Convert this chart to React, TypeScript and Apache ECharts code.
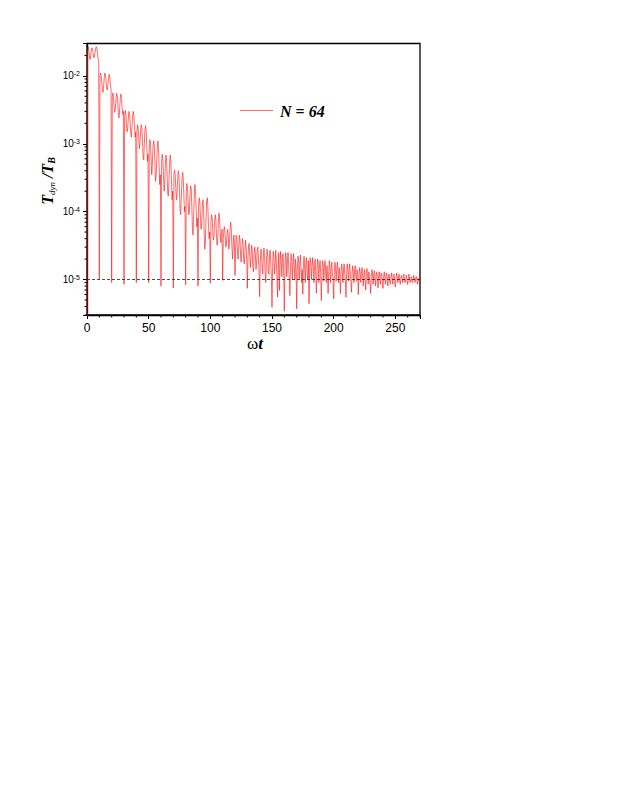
import React, { useEffect, useRef } from "react";
import * as echarts from "echarts";

// ωt sampled every 0.5; values of T_dyn/T_B in units of 1e-5
const STEP = 0.5;
const UNIT = 1e-5;

const w000 = [0.05, 2300, 2700, 2400, 1900, 1750, 2000, 2400, 2600, 2500, 2100, 1850, 1900, 2200, 2500, 2700, 2550, 2200, 1800, 1650];
const w010 = [1, 1000, 1100, 1000, 800, 620, 570, 700, 950, 1100, 1000, 800, 650, 620, 750, 950, 1050, 950, 750, 620];
const w020 = [0.9, 500, 560, 480, 350, 290, 330, 450, 550, 520, 380, 260, 240, 330, 480, 540, 470, 340, 270, 300];
const w030 = [0.85, 260, 310, 270, 190, 150, 170, 240, 300, 280, 200, 140, 125, 180, 260, 300, 260, 180, 125, 150];
const w040 = [0.9, 150, 190, 170, 120, 85, 105, 160, 190, 170, 110, 62, 58, 100, 160, 185, 150, 90, 55, 70];
const w050 = [0.9, 90, 115, 100, 60, 35, 50, 90, 110, 100, 55, 28, 32, 55, 90, 110, 85, 45, 25, 35];
const w060 = [0.8, 55, 70, 60, 35, 20, 25, 50, 68, 60, 32, 18, 17, 30, 55, 68, 55, 28, 15, 20];
const w070 = [0.75, 35, 41, 35, 22, 15, 18, 30, 40, 36, 20, 10, 9, 16, 30, 38, 32, 18, 10, 12];
const w080 = [0.84, 20, 26, 22, 14, 9, 10, 17, 24, 22, 12, 5.5, 4.5, 9, 18, 25, 20, 11, 6, 8];
const w090 = [0.8, 12, 16, 14, 8, 5.5, 7, 12, 15, 11, 5, 2.8, 3.5, 8, 14, 16, 12, 6, 4, 5];
const w100 = [0.88, 7, 9, 8, 5, 3.8, 4.5, 7.5, 9, 7.5, 4.2, 3.2, 4, 7, 9.5, 8, 5, 3.5, 4.5, 5.5];
const w110 = [0.97, 4, 5.5, 6, 4.5, 3, 3.2, 4.5, 5.5, 4.5, 2.8, 3.5, 5.5, 7, 5.5, 3, 2, 3, 4.5, 3.5];
const w120 = [1.15, 3, 4.5, 4, 2.5, 2, 3, 4.5, 4, 2.3, 1.8, 2.8, 4, 3.5, 2, 1.7, 2.5, 3.8, 3, 2];
const w130 = [0.74, 2, 3.2, 3.4, 2.2, 1.5, 2.2, 3.2, 2.6, 1.5, 1.3, 2.3, 3, 2.4, 1.4, 1.6, 2.8, 3, 2, 1.3];
const w140 = [0.56, 1.8, 2.8, 2.6, 1.5, 1.2, 2.2, 2.9, 2.1, 1.2, 0.9, 1.9, 2.8, 2.3, 1.3, 1.2, 2.3, 2.7, 1.8, 1.1];
const w150 = [0.39, 1.5, 2.6, 2.2, 1.2, 1.6, 2.7, 2.0, 1.0, 0.55, 1.4, 2.5, 0.69, 1.6, 2.6, 1.8, 1.1, 2.3, 2.4, 1.3];
const w160 = [0.34, 1.4, 2.5, 2.1, 1.1, 1.8, 2.5, 1.6, 1.0, 0.58, 1.5, 2.4, 1.9, 1.0, 1.7, 2.4, 1.5, 1.0, 2.0, 1.6];
const w170 = [0.37, 1.3, 2.2, 2.0, 1.0, 1.6, 2.3, 1.5, 0.9, 1.4, 0.61, 1.6, 2.2, 1.4, 0.9, 1.8, 2.1, 1.2, 1.0, 1.9];
const w180 = [0.44, 1.3, 2.1, 1.8, 1.0, 1.5, 2.1, 1.5, 0.9, 1.6, 2.0, 1.2, 0.63, 1.4, 2.0, 1.6, 0.9, 1.6, 1.9, 1.2];
const w190 = [0.49, 1.2, 1.9, 1.7, 0.95, 1.5, 1.9, 1.3, 0.9, 1.6, 1.3, 0.62, 1.3, 1.9, 1.5, 0.9, 1.5, 1.8, 1.2, 1.0];
const w200 = [0.52, 1.2, 1.8, 1.5, 0.95, 1.4, 1.8, 1.3, 0.9, 1.5, 1.2, 0.62, 1.3, 1.7, 1.4, 0.9, 1.4, 1.7, 1.2, 1.0];
const w210 = [0.55, 1.2, 1.7, 1.4, 0.95, 1.4, 1.7, 1.2, 0.9, 0.65, 1.3, 1.6, 1.2, 0.9, 1.4, 1.6, 1.1, 0.95, 1.4, 1.2];
const w220 = [0.6, 1.1, 1.5, 1.3, 0.9, 1.2, 1.5, 1.1, 0.8, 1.2, 1.4, 1.0, 0.7, 1.2, 1.45, 1.1, 0.85, 1.3, 1.3, 0.9];
const w230 = [0.62, 1.1, 1.4, 1.2, 0.85, 1.2, 1.35, 1.0, 0.8, 1.2, 1.3, 0.95, 0.75, 1.15, 1.3, 1.0, 0.85, 1.25, 1.2, 0.9];
const w240 = [0.74, 1.05, 1.3, 1.1, 0.85, 1.15, 1.25, 0.95, 0.8, 1.15, 1.2, 0.9, 0.85, 1.1, 1.25, 1.0, 0.85, 1.15, 1.2, 0.95];
const w250 = [0.78, 1.0, 1.25, 1.1, 0.9, 1.05, 1.2, 0.95, 0.85, 1.05, 1.15, 1.0, 0.9, 1.1, 1.2, 0.95, 0.9, 1.05, 1.15, 0.95];
const w260 = [0.84, 1.0, 1.2, 1.05, 0.9, 1.0, 1.1, 0.95, 0.9, 1.0, 1.15, 1.0, 0.9, 1.05, 1.1, 0.95, 0.85, 0.95, 1.05, 0.9];
const w270 = [1.15];

const segments = [w000, w010, w020, w030, w040, w050, w060, w070, w080, w090, w100, w110, w120, w130,
  w140, w150, w160, w170, w180, w190, w200, w210, w220, w230, w240, w250, w260, w270];

const X_MIN = 0;
const X_MAX = 270;
const X_MAJOR = 50;
const X_MINOR_TICKS = [10, 20, 30, 40, 60, 70, 80, 90, 110, 120, 130, 140, 160, 170, 180, 190, 210, 220, 230, 240, 260, 270];
const Y_MIN = 3e-6;
const Y_MAX = 3e-2;
const Y_MINOR_TICKS = [
  3e-6, 4e-6, 5e-6, 6e-6, 7e-6, 8e-6, 9e-6,
  2e-5, 3e-5, 4e-5, 5e-5, 6e-5, 7e-5, 8e-5, 9e-5,
  2e-4, 3e-4, 4e-4, 5e-4, 6e-4, 7e-4, 8e-4, 9e-4,
  2e-3, 3e-3, 4e-3, 5e-3, 6e-3, 7e-3, 8e-3, 9e-3,
  2e-2, 3e-2,
];
const REF_LEVEL = 1e-5;
const LEGEND_LABEL = "N = 64";

export default function App() {
  const ref = useRef<HTMLDivElement>(null);
  useEffect(() => {
    if (!ref.current) return;
    const chart = echarts.init(ref.current, null, { renderer: "svg" });
    const flat: number[] = ([] as number[]).concat(...segments);
    const data = flat.map((v, i) => [i * STEP, v * UNIT]);
    const serif = "Liberation Serif";
    const sans = "Liberation Sans";
    const black = "#000";
    const red = "#ff1a1a";

    chart.setOption({
      animation: false,
      backgroundColor: "#fff",
      grid: {
        left: 87, top: 43.5, width: 333, height: 271.5,
        show: true, borderColor: black, borderWidth: 1.3, backgroundColor: "transparent",
        containLabel: false,
      },
      xAxis: {
        type: "value", min: X_MIN, max: X_MAX, interval: X_MAJOR,
        axisLine: { show: true, onZero: false, lineStyle: { color: black, width: 1.3 } },
        axisTick: { show: true, inside: false, length: 4, lineStyle: { color: black, width: 1 } },
        splitLine: { show: false },
        axisLabel: {
          margin: 7, fontSize: 12, fontFamily: sans, color: black,
          formatter: (v: number) => (v % X_MAJOR === 0 ? String(v) : ""),
        },
      },
      yAxis: {
        type: "log", logBase: 10, min: Y_MIN, max: Y_MAX,
        axisLine: { show: true, onZero: false, lineStyle: { color: black, width: 1.3 } },
        axisTick: { show: true, inside: false, length: 4, lineStyle: { color: black, width: 1 } },
        splitLine: { show: false },
        axisLabel: {
          margin: 7, fontSize: 10, fontFamily: sans, color: black, lineHeight: 12,
          formatter: (v: number) => {
            const l = Math.log10(v);
            const e = Math.round(l);
            if (Math.abs(l - e) > 1e-6) return "";
            return "10{e|" + String(e) + "}";
          },
          rich: {
            e: { fontSize: 7, fontFamily: sans, color: black, verticalAlign: "top", lineHeight: 8 },
          },
        },
      },
      series: [
        {
          type: "line",
          data,
          showSymbol: false,
          symbol: "none",
          clip: true,
          lineStyle: { color: red, width: 0.65 },
          z: 5,
        },
        {
          type: "line",
          data: [[X_MIN, REF_LEVEL], [X_MAX, REF_LEVEL]],
          showSymbol: false,
          symbol: "none",
          silent: true,
          lineStyle: { color: "#222", width: 0.8, type: [3, 2] },
          z: 6,
        },
        {
          type: "custom",
          coordinateSystem: "cartesian2d",
          clip: false,
          silent: true,
          data: X_MINOR_TICKS.map((t) => [t, Y_MIN]),
          renderItem: (_p: any, api: any) => {
            const p = api.coord([api.value(0), api.value(1)]);
            return {
              type: "line",
              shape: { x1: p[0], y1: p[1], x2: p[0], y2: p[1] + 2.5 },
              style: { stroke: black, lineWidth: 1 },
            };
          },
        },
        {
          type: "custom",
          coordinateSystem: "cartesian2d",
          clip: false,
          silent: true,
          data: Y_MINOR_TICKS.map((v) => [X_MIN, v]),
          renderItem: (_p: any, api: any) => {
            const p = api.coord([api.value(0), api.value(1)]);
            return {
              type: "line",
              shape: { x1: p[0] - 2.5, y1: p[1], x2: p[0], y2: p[1] },
              style: { stroke: black, lineWidth: 1 },
            };
          },
        },
      ],
      graphic: [
        {
          type: "line",
          shape: { x1: 240, y1: 110.5, x2: 273, y2: 110.5 },
          style: { stroke: red, lineWidth: 0.65 },
        },
        {
          type: "text",
          x: 280, y: 111,
          style: {
            text: "{n|N}{e| = }{n|64}",
            align: "left", verticalAlign: "middle", fill: black,
            rich: {
              n: { fontFamily: serif, fontStyle: "italic", fontWeight: "bold", fontSize: 16, fill: black },
              e: { fontFamily: serif, fontWeight: "bold", fontSize: 16, fill: black },
            },
          },
        },
        {
          type: "text",
          x: 47.5, y: 181,
          rotation: Math.PI / 2,
          style: {
            text: "{a|T}{b|dyn}{a| /}{a|T}{c|B}",
            align: "center", verticalAlign: "middle", fill: black,
            rich: {
              a: { fontFamily: serif, fontStyle: "italic", fontWeight: "bold", fontSize: 16, lineHeight: 18, fill: black },
              b: { fontFamily: serif, fontStyle: "italic", fontSize: 9, lineHeight: 10, verticalAlign: "bottom", fill: black },
              c: { fontFamily: serif, fontStyle: "italic", fontWeight: "bold", fontSize: 10, lineHeight: 11, verticalAlign: "bottom", fill: black },
            },
          },
        },
        {
          type: "text",
          x: 255, y: 343,
          style: {
            text: "{w|ω}{t|t}",
            align: "center", verticalAlign: "middle", fill: black,
            rich: {
              w: { fontFamily: serif, fontSize: 17, fill: black },
              t: { fontFamily: serif, fontStyle: "italic", fontWeight: "bold", fontSize: 17, fill: black },
            },
          },
        },
      ],
    });
    return () => chart.dispose();
  }, []);

  return (
    <div
      ref={ref}
      style={{ position: "fixed", left: 0, top: 0, width: 623, height: 806, background: "#fff" }}
    />
  );
}
